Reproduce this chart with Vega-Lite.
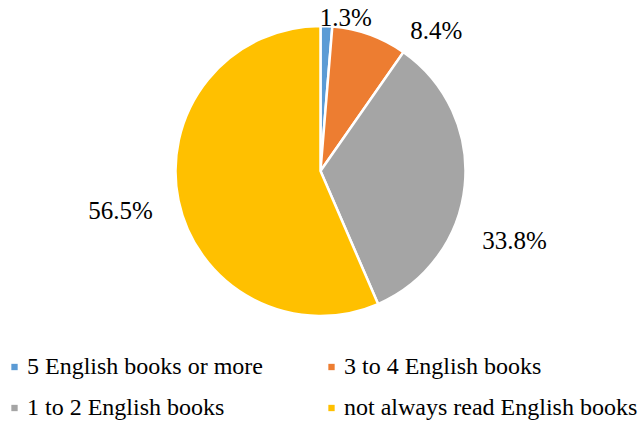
{
  "$schema": "https://vega.github.io/schema/vega-lite/v6.json",
  "width": 641,
  "height": 342,
  "autosize": "none",
  "padding": {"left": 0, "top": 0, "right": 0, "bottom": 81},
  "background": "white",
  "config": {"view": {"stroke": null}, "font": "Liberation Serif"},
  "data": {
    "values": [
      {"cat": "5 English books or more", "pct": 1.3, "label": "1.3%", "rank": 1},
      {"cat": "3 to 4 English books", "pct": 8.4, "label": "8.4%", "rank": 2},
      {"cat": "1 to 2 English books", "pct": 33.8, "label": "33.8%", "rank": 3},
      {"cat": "not always read English books", "pct": 56.5, "label": "56.5%", "rank": 4}
    ]
  },
  "layer": [
    {
      "mark": {"type": "arc", "outerRadius": 145, "stroke": "white", "strokeWidth": 2.5},
      "encoding": {
        "theta": {"field": "pct", "type": "quantitative", "stack": true},
        "order": {"field": "rank", "type": "quantitative"},
        "color": {
          "field": "cat",
          "type": "nominal",
          "scale": {
            "domain": ["5 English books or more", "3 to 4 English books", "1 to 2 English books", "not always read English books"],
            "range": ["#5B9BD5", "#ED7D31", "#A5A5A5", "#FFC000"]
          },
          "legend": {
            "orient": "none",
            "legendX": 2.5,
            "legendY": 355,
            "columns": 2,
            "values": ["5 English books or more", "1 to 2 English books", "3 to 4 English books", "not always read English books"],
            "title": null,
            "padding": 0,
            "symbolType": "square",
            "symbolSize": 40,
            "symbolStrokeWidth": 0,
            "labelFont": "Liberation Serif",
            "labelFontSize": 24,
            "labelColor": "#000000",
            "labelLimit": 400,
            "labelOffset": 0.5,
            "rowPadding": 17,
            "columnPadding": 56
          }
        }
      }
    },
    {
      "mark": {"type": "text", "radius": 155, "dx": 19, "dy": 2, "font": "Liberation Serif", "fontSize": 25, "color": "#000000", "baseline": "middle", "align": "center"},
      "encoding": {
        "theta": {"field": "pct", "type": "quantitative", "stack": true},
        "order": {"field": "rank", "type": "quantitative"},
        "text": {"condition": {"test": "datum.rank == 1", "field": "label"}, "value": ""}
      }
    },
    {
      "mark": {"type": "text", "radius": 185, "dx": 53, "dy": 34, "font": "Liberation Serif", "fontSize": 25, "color": "#000000", "baseline": "middle", "align": "center"},
      "encoding": {
        "theta": {"field": "pct", "type": "quantitative", "stack": true},
        "order": {"field": "rank", "type": "quantitative"},
        "text": {"condition": {"test": "datum.rank == 2", "field": "label"}, "value": ""}
      }
    },
    {
      "mark": {"type": "text", "radius": 190, "dx": 5, "dy": 51, "font": "Liberation Serif", "fontSize": 25, "color": "#000000", "baseline": "middle", "align": "center"},
      "encoding": {
        "theta": {"field": "pct", "type": "quantitative", "stack": true},
        "order": {"field": "rank", "type": "quantitative"},
        "text": {"condition": {"test": "datum.rank == 3", "field": "label"}, "value": ""}
      }
    },
    {
      "mark": {"type": "text", "radius": 190, "dx": -14, "dy": 1, "font": "Liberation Serif", "fontSize": 25, "color": "#000000", "baseline": "middle", "align": "center"},
      "encoding": {
        "theta": {"field": "pct", "type": "quantitative", "stack": true},
        "order": {"field": "rank", "type": "quantitative"},
        "text": {"condition": {"test": "datum.rank == 4", "field": "label"}, "value": ""}
      }
    }
  ]
}
